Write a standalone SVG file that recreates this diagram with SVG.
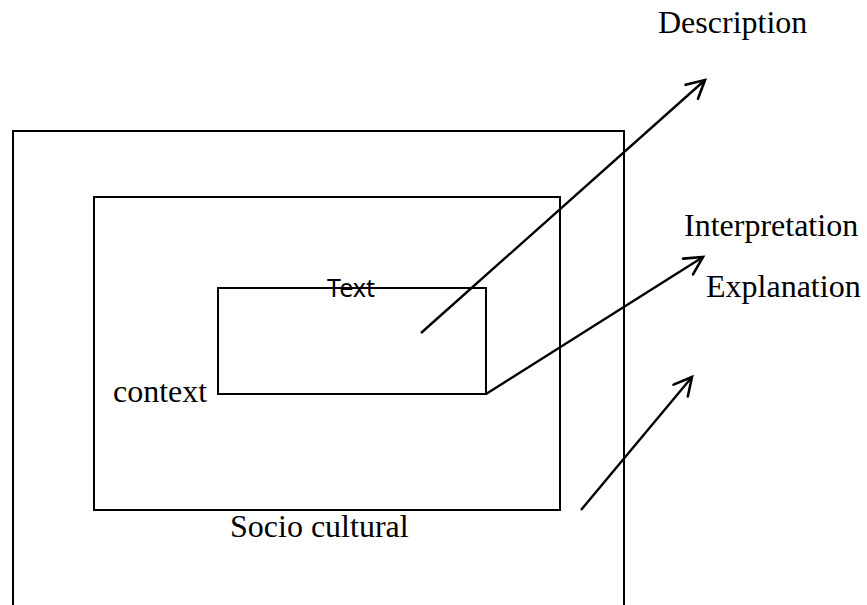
<svg xmlns="http://www.w3.org/2000/svg" width="867" height="605" viewBox="0 0 867 605">
<style>
.box{fill:none;stroke:#000;stroke-width:2}
.arr{fill:none;stroke:#000;stroke-width:2.4;marker-end:url(#ah)}
.lbl{font-family:"Liberation Serif","Times New Roman",serif;font-size:32px;fill:#000}
.sans{font-family:"Noto Sans","Open Sans",sans-serif;font-size:25px;fill:#000}
</style>
<defs>
<marker id="ah" markerUnits="userSpaceOnUse" viewBox="-22 -12 26 24" markerWidth="26" markerHeight="24" refX="0" refY="0" orient="auto">
<path d="M-17.7,-9.3 L0,0 L-17.7,9.3" fill="none" stroke="#000" stroke-width="2.6" stroke-linecap="round" stroke-linejoin="miter"/>
</marker>
</defs>
<rect width="867" height="605" fill="#fff"/>
<g id="outer">
<path class="box" d="M13,620 L13,131 L624,131 L624,620"/>
</g>
<g id="socio">
<rect class="box" x="94" y="197" width="466" height="313"/>
<text class="lbl" x="230" y="537">Socio cultural</text>
</g>
<g id="context">
<rect class="box" x="218" y="288" width="268" height="106"/>
<text class="lbl" x="113" y="402">context</text>
<text class="sans" x="327" y="297">Text</text>
</g>
<g id="description"><text class="lbl" x="658" y="33">Description</text></g>
<g id="interpretation"><text class="lbl" x="684" y="236">Interpretation</text></g>
<g id="explanation"><text class="lbl" x="706" y="297">Explanation</text></g>
<g id="connectors">
<line class="arr" x1="421" y1="333" x2="705" y2="80"/>
<line class="arr" x1="486" y1="394" x2="703" y2="257"/>
<line class="arr" x1="581" y1="510" x2="692" y2="377"/>
</g>
</svg>
